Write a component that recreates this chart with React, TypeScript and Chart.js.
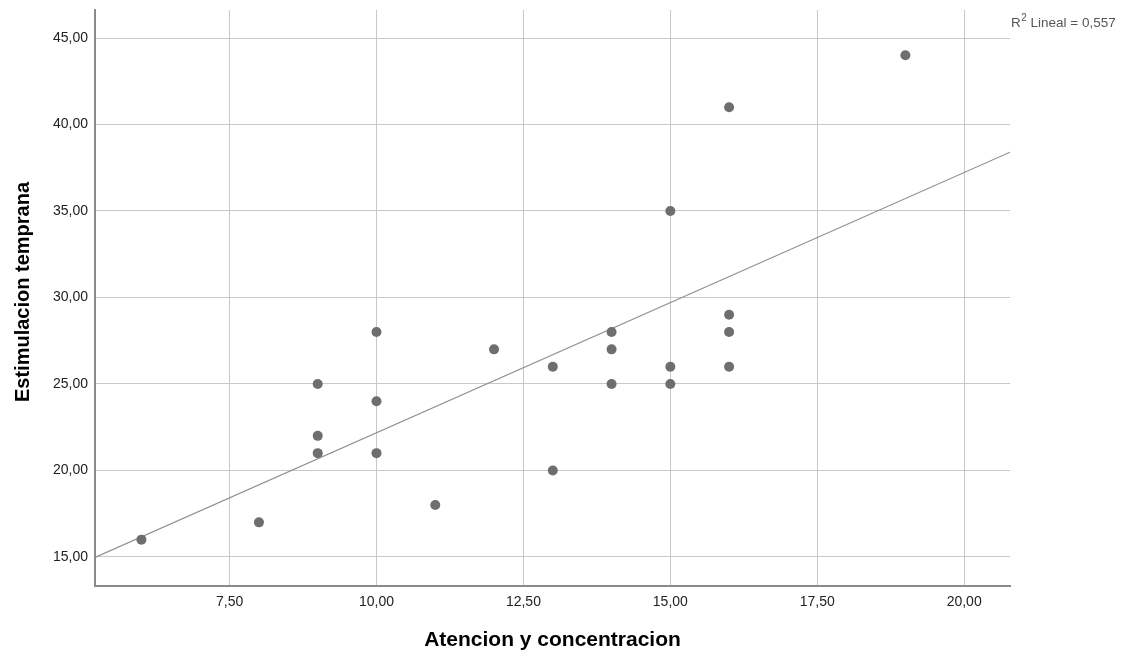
import React, { useEffect, useRef } from "react";
import { Chart, registerables } from "chart.js";

Chart.register(...registerables);

const X_VALUES = [6, 8, 9, 9, 9, 10, 10, 10, 11, 12, 13, 13, 14, 14, 14, 15, 15, 15, 16, 16, 16, 16, 19];
const Y_VALUES = [16, 17, 25, 22, 21, 28, 24, 21, 18, 27, 26, 20, 28, 27, 25, 35, 26, 25, 41, 29, 28, 26, 44];
const FIT_LINE_X = [5.21, 20.78];
const FIT_LINE_Y = [14.97, 38.4];
const X_TICKS = [7.5, 10, 12.5, 15, 17.5, 20];
const Y_TICKS = [15, 20, 25, 30, 35, 40, 45];
const X_RANGE = [5.21, 20.78];
const Y_RANGE = [13.32, 46.62];
const X_TITLE = "Atencion y concentracion";
const Y_TITLE = "Estimulacion temprana";
const R2_TEXT = ["R", "2", " Lineal = 0,557"];

const fmt = (v: number) => Number(v).toFixed(2).replace(".", ",");
const FONT = "'Liberation Sans', Arial, sans-serif";

export default function App() {
  const ref = useRef<HTMLCanvasElement | null>(null);
  useEffect(() => {
    if (!ref.current) return;
    const textPlugin = {
      id: "texts",
      afterDraw(chart: any) {
        const ctx = chart.ctx;
        ctx.save();
        ctx.fillStyle = "#000";
        ctx.textAlign = "center";
        ctx.textBaseline = "middle";
        ctx.font = `bold 21px ${FONT}`;
        ctx.fillText(X_TITLE, (chart.chartArea.left + chart.chartArea.right) / 2, 640);
        ctx.font = `bold 20px ${FONT}`;
        ctx.translate(23, 292);
        ctx.rotate(-Math.PI / 2);
        ctx.fillText(Y_TITLE, 0, 0);
        ctx.restore();
        ctx.save();
        ctx.fillStyle = "#555";
        ctx.textBaseline = "alphabetic";
        ctx.textAlign = "left";
        let x = 1011;
        ctx.font = `13.5px ${FONT}`;
        ctx.fillText(R2_TEXT[0], x, 27);
        x += ctx.measureText(R2_TEXT[0]).width + 0.5;
        ctx.font = `10px ${FONT}`;
        ctx.fillText(R2_TEXT[1], x, 21);
        x += ctx.measureText(R2_TEXT[1]).width;
        ctx.font = `13.5px ${FONT}`;
        ctx.fillText(R2_TEXT[2], x, 27);
        ctx.restore();
      },
    };
    const chart = new Chart(ref.current, {
      type: "scatter",
      data: {
        datasets: [
          {
            type: "line",
            data: FIT_LINE_X.map((x, i) => ({ x, y: FIT_LINE_Y[i] })),
            borderColor: "#8e8e8e",
            borderWidth: 1.2,
            pointRadius: 0,
            fill: false,
            order: 2,
          } as any,
          {
            data: X_VALUES.map((x, i) => ({ x, y: Y_VALUES[i] })),
            backgroundColor: "#6e6e6e",
            borderColor: "#6e6e6e",
            borderWidth: 0,
            pointRadius: 5,
            order: 1,
          },
        ],
      },
      options: {
        responsive: false,
        animation: false,
        devicePixelRatio: 1,
        layout: { padding: { left: 0, top: 10, right: 118, bottom: 0 } },
        plugins: { legend: { display: false }, tooltip: { enabled: false } },
        scales: {
          x: {
            type: "linear",
            min: X_RANGE[0],
            max: X_RANGE[1],
            afterBuildTicks: (s: any) => {
              s.ticks = X_TICKS.map((v) => ({ value: v }));
            },
            afterFit: (s: any) => {
              s.height = 71;
              s.paddingLeft = 0;
              s.paddingRight = 0;
            },
            grid: { color: "#c8c8c8", lineWidth: 1, drawTicks: false },
            border: { color: "#8a8a8a", width: 2 },
            ticks: {
              padding: 8,
              color: "#222",
              font: { family: FONT, size: 14 },
              callback: (v: any) => fmt(v),
              maxRotation: 0,
            },
          },
          y: {
            type: "linear",
            min: Y_RANGE[0],
            max: Y_RANGE[1],
            afterBuildTicks: (s: any) => {
              s.ticks = Y_TICKS.map((v) => ({ value: v }));
            },
            afterFit: (s: any) => {
              s.width = 95;
              s.paddingTop = 0;
              s.paddingBottom = 0;
            },
            grid: { color: "#c8c8c8", lineWidth: 1, drawTicks: false },
            border: { color: "#8a8a8a", width: 2 },
            ticks: {
              padding: 7,
              color: "#222",
              font: { family: FONT, size: 14 },
              callback: (v: any) => fmt(v),
            },
          },
        },
      },
      plugins: [textPlugin],
    });
    return () => chart.destroy();
  }, []);
  return (
    <div style={{ position: "absolute", left: 0, top: 0, width: 1128, height: 657, background: "#fff" }}>
      <canvas ref={ref} width={1128} height={657} style={{ width: 1128, height: 657, display: "block" }} />
    </div>
  );
}
